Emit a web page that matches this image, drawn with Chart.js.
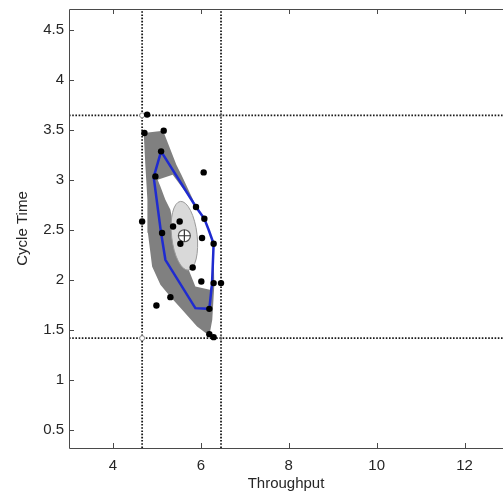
<!DOCTYPE html>
<html>
<head>
<meta charset="utf-8">
<script src="https://cdn.jsdelivr.net/npm/chart.js@4.4.1/dist/chart.umd.min.js"></script>
<style>
    html, body { margin: 0; padding: 0; background: #ffffff; }
    #wrap { width: 503px; height: 497px; position: relative; }
</style>
</head>
<body>
<div id="wrap"><canvas id="bag-chart" width="503" height="497"></canvas></div>
<script>
'use strict';

// ==================== DATA ====================

// Observations (throughput, cycle time)
const throughput = [4.777, 4.716, 5.155, 5.095, 4.966, 6.064, 5.890, 6.080, 4.664, 5.518, 5.368, 5.118,
                    5.534, 6.027, 6.291, 5.814, 6.011, 6.291, 6.459, 5.307, 4.989, 6.193, 6.193, 6.291];
const cycleTime  = [3.650, 3.467, 3.490, 3.283, 3.033, 3.073, 2.727, 2.610, 2.583, 2.583, 2.533, 2.467,
                    2.360, 2.417, 2.360, 2.123, 1.983, 1.967, 1.967, 1.827, 1.743, 1.710, 1.457, 1.427];

// Outer loop (dark grey region)
const loopX = [4.700, 5.141, 5.443, 5.557, 5.898, 6.080, 6.284, 6.307, 6.260, 6.193,
               5.914, 5.534, 5.307, 5.080, 4.891, 4.795, 4.784, 4.739];
const loopY = [3.467, 3.490, 3.150, 3.050, 2.730, 2.610, 2.350, 1.950, 1.600, 1.440,
               1.533, 1.720, 1.830, 1.950, 2.133, 2.470, 2.800, 3.133];

// Inner white region
const innerX = [5.018, 5.359, 5.898, 6.080, 6.177, 6.273, 6.255, 6.205, 5.875, 5.723, 5.557, 5.420, 5.307, 5.193, 5.080];
const innerY = [3.000, 3.050, 2.730, 2.610, 2.500, 2.350, 1.960, 1.900, 1.933, 2.100, 2.270, 2.440, 2.700, 2.800, 2.933];

// Bag outline (blue)
const bagX = [5.095, 4.927, 5.091, 5.193, 5.875, 6.193, 6.255, 6.291, 6.177, 6.080, 5.890];
const bagY = [3.283, 3.025, 2.480, 2.200, 1.717, 1.710, 1.967, 2.360, 2.500, 2.610, 2.727];

// Depth median and its confidence ellipse
const centerPoint = [5.625, 2.44];
const ellipseTip = [5.534, 2.783];
const ellipseHalfWidth = 0.29;

// Data range bounds (dotted lines)
const boundsX = [4.664, 6.459];
const boundsY = [1.417, 3.643];

// Axes
const xRange = [3, 12.875];
const yRange = [0.32, 4.705];
const xTicks = [4, 6, 8, 10, 12];
const yTicks = [0.5, 1, 1.5, 2, 2.5, 3, 3.5, 4, 4.5];

// ==================== HELPERS ====================

function toPoints(xs, ys) {
    return xs.map((x, i) => ({ x: x, y: ys[i] }));
}

function closedShape(xs, ys) {
    const pts = toPoints(xs, ys);
    pts.push({ x: xs[0], y: ys[0] });
    return pts;
}

const FONT = { family: "'Liberation Sans', Arial, sans-serif", size: 15 };
const TEXT_COLOR = '#262626';
const AXIS_COLOR = '#4a4a4a';

function dottedLine(points) {
    return {
        label: 'bound',
        data: points,
        showLine: true,
        borderColor: '#1a1a1a',
        borderWidth: 1.8,
        borderDash: [1.6, 1.6],
        pointRadius: 0,
        fill: false
    };
}

// ==================== PLUGINS ====================

// Median ellipse, drawn just under the bag outline
const ellipsePlugin = {
    id: 'medianEllipse',
    beforeDatasetDraw(chart, args) {
        if (chart.data.datasets[args.index].label !== 'bag') return;
        const { x, y } = chart.scales;
        const ctx = chart.ctx;
        const cx = x.getPixelForValue(centerPoint[0]);
        const cy = y.getPixelForValue(centerPoint[1]);
        const tx = x.getPixelForValue(ellipseTip[0]);
        const ty = y.getPixelForValue(ellipseTip[1]);
        const rLong = Math.hypot(tx - cx, ty - cy);
        const rShort = x.getPixelForValue(centerPoint[0] + ellipseHalfWidth) - cx;
        const angle = Math.atan2(ty - cy, tx - cx);
        ctx.save();
        ctx.beginPath();
        ctx.ellipse(cx, cy, rLong, rShort, angle, 0, Math.PI * 2);
        ctx.fillStyle = '#d9d9d9';
        ctx.fill();
        ctx.lineWidth = 1;
        ctx.strokeStyle = '#9a9a9a';
        ctx.stroke();
        ctx.restore();
    }
};

// Box frame with inward tick marks
const framePlugin = {
    id: 'boxFrame',
    afterDraw(chart) {
        const { x, y } = chart.scales;
        const { left, right, top, bottom } = chart.chartArea;
        const ctx = chart.ctx;
        ctx.save();
        ctx.strokeStyle = AXIS_COLOR;
        ctx.lineWidth = 1;
        ctx.beginPath();
        ctx.moveTo(right + 1, top + 0.5);
        ctx.lineTo(left + 0.5, top + 0.5);
        ctx.lineTo(left + 0.5, bottom + 0.5);
        ctx.lineTo(right + 1, bottom + 0.5);
        xTicks.forEach(v => {
            const px = Math.round(x.getPixelForValue(v)) + 0.5;
            ctx.moveTo(px, bottom);
            ctx.lineTo(px, bottom - 5);
            ctx.moveTo(px, top);
            ctx.lineTo(px, top + 5);
        });
        yTicks.forEach(v => {
            const py = Math.round(y.getPixelForValue(v)) + 0.5;
            ctx.moveTo(left, py);
            ctx.lineTo(left + 5, py);
        });
        ctx.stroke();
        ctx.restore();
    }
};

// ==================== BAGPLOT (Scatter) ====================

const ctx = document.getElementById('bag-chart').getContext('2d');

new Chart(ctx, {
    type: 'scatter',
    data: {
        datasets: [
            {
                label: 'median cross',
                data: [{ x: centerPoint[0], y: centerPoint[1] }],
                pointStyle: 'cross',
                pointRadius: 6,
                borderColor: '#333333',
                borderWidth: 1.2
            },
            {
                label: 'observations',
                data: toPoints(throughput, cycleTime),
                pointStyle: 'circle',
                pointRadius: 3.2,
                backgroundColor: '#000000',
                borderColor: '#000000',
                borderWidth: 0
            },
            {
                label: 'median',
                data: [{ x: centerPoint[0], y: centerPoint[1] }],
                pointStyle: 'circle',
                pointRadius: 6,
                backgroundColor: '#ffffff',
                borderColor: '#555555',
                borderWidth: 1.2
            },
            {
                label: 'bound corners left',
                data: [{ x: boundsX[0], y: boundsY[0] }, { x: boundsX[0], y: boundsY[1] }],
                pointStyle: 'circle',
                pointRadius: 2.5,
                backgroundColor: '#ffffff',
                borderColor: '#8a8a8a',
                borderWidth: 1
            },
            {
                label: 'bound corners right',
                data: [{ x: boundsX[1], y: boundsY[0] }, { x: boundsX[1], y: boundsY[1] }],
                pointStyle: 'line',
                rotation: 90,
                pointRadius: 3,
                borderColor: '#8a8a8a',
                borderWidth: 1
            },
            dottedLine([{ x: boundsX[0], y: yRange[0] }, { x: boundsX[0], y: yRange[1] }]),
            dottedLine([{ x: boundsX[1], y: yRange[0] }, { x: boundsX[1], y: yRange[1] }]),
            dottedLine([{ x: xRange[0], y: boundsY[0] }, { x: xRange[1], y: boundsY[0] }]),
            dottedLine([{ x: xRange[0], y: boundsY[1] }, { x: xRange[1], y: boundsY[1] }]),
            {
                label: 'bag',
                data: closedShape(bagX, bagY),
                showLine: true,
                borderColor: '#1f2bd0',
                borderWidth: 2.5,
                pointRadius: 0,
                fill: false
            },
            {
                label: 'inner',
                data: closedShape(innerX, innerY),
                showLine: true,
                borderWidth: 0,
                borderColor: 'rgba(0,0,0,0)',
                backgroundColor: '#ffffff',
                pointRadius: 0,
                fill: 'shape'
            },
            {
                label: 'loop',
                data: closedShape(loopX, loopY),
                showLine: true,
                borderWidth: 0,
                borderColor: 'rgba(0,0,0,0)',
                backgroundColor: '#808080',
                pointRadius: 0,
                fill: 'shape'
            }
        ]
    },
    options: {
        responsive: false,
        animation: false,
        events: [],
        layout: { autoPadding: false, padding: { top: 9, right: 0, left: 0, bottom: 0 } },
        scales: {
            x: {
                min: xRange[0],
                max: xRange[1],
                afterFit: scale => {
                    scale.height = 49;
                    scale.paddingLeft = 0;
                    scale.paddingRight = 0;
                },
                afterBuildTicks: scale => { scale.ticks = xTicks.map(v => ({ value: v })); },
                grid: { display: false, drawTicks: false },
                border: { display: false },
                ticks: {
                    color: TEXT_COLOR,
                    font: FONT,
                    padding: 9,
                    maxRotation: 0,
                    callback: value => String(value)
                },
                title: {
                    display: true,
                    text: 'Throughput',
                    color: TEXT_COLOR,
                    font: FONT,
                    padding: { top: 0, bottom: 4 }
                }
            },
            y: {
                min: yRange[0],
                max: yRange[1],
                afterFit: scale => {
                    scale.width = 69;
                    scale.paddingTop = 0;
                    scale.paddingBottom = 0;
                },
                afterBuildTicks: scale => { scale.ticks = yTicks.map(v => ({ value: v })); },
                grid: { display: false, drawTicks: false },
                border: { display: false },
                ticks: {
                    color: TEXT_COLOR,
                    font: FONT,
                    padding: 5,
                    callback: value => String(value)
                },
                title: {
                    display: true,
                    text: 'Cycle Time',
                    color: TEXT_COLOR,
                    font: FONT,
                    padding: { top: 14, bottom: 0 }
                }
            }
        },
        plugins: {
            legend: { display: false },
            tooltip: { enabled: false }
        }
    },
    plugins: [ellipsePlugin, framePlugin]
});
</script>
</body>
</html>
